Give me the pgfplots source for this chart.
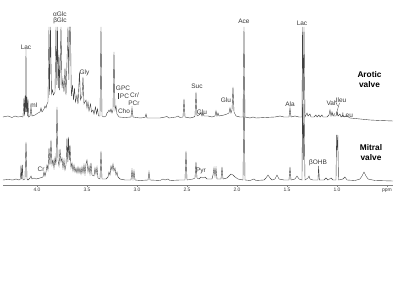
\documentclass[border=0pt]{standalone}
\usepackage{fontspec}
\setmainfont{Liberation Sans}
\usepackage{pgfplots}
\pgfplotsset{compat=1.18}
\definecolor{spec}{RGB}{65,65,65}
\definecolor{lab}{RGB}{55,55,55}
\tikzset{lbl/.style={font=\fontsize{6.5}{7}\selectfont, text=lab, inner sep=0pt},
  big/.style={font=\fontsize{8.3}{10}\selectfont\bfseries, align=center, inner sep=0pt}}
\begin{document}
\begin{tikzpicture}[x=1pt,y=1pt]
\path[use as bounding box] (0,0) rectangle (400,300);
\begin{axis}[at={(3pt,115pt)}, anchor=south west, scale only axis,
  width=390pt, height=185pt,
  xmin=0.44, xmax=4.34, x dir=reverse, ymin=0, ymax=185,
  axis y line=none, axis x line*=bottom, clip=false,
  xtick={0.5,1,1.5,2,2.5,3,3.5,4},
  xticklabels={ppm,1.0,1.5,2.0,2.5,3.0,3.5,4.0},
  minor x tick num=4, tick align=outside,
  major tick length=2pt, minor tick length=1.2pt,
  x axis line style={gray, line width=0.4pt},
  tick style={gray, line width=0.3pt},
  xticklabel style={font=\fontsize{5}{5.5}\selectfont, text=lab, inner sep=1.2pt},
  /pgf/number format/assume math mode=true,
]
% Mitral valve (lower spectrum)
\addplot[spec, line width=0.4pt] coordinates {
(4.34,5) (4.29,5.5) (4.24,5) (4.21,6) (4.18,5) (4.165,6) (4.16,20) (4.154,6) (4.146,20) (4.14,5) (4.12,6) (4.115,25) (4.11,43) (4.105,27) (4.10,6) (4.09,5) (4.07,7) (4.06,9) (4.05,6) (4.03,7) (4.01,6) (3.97,7) (3.94,8) (3.93,13) (3.92,9) (3.91,13) (3.90,20) (3.89,15) (3.88,37) (3.87,20) (3.86,45) (3.85,20) (3.84,25) (3.83,17) (3.82,27) (3.81,20) (3.80,78) (3.79,25) (3.78,19) (3.77,36) (3.76,23) (3.75,27) (3.74,17) (3.73,25) (3.72,15) (3.71,20) (3.70,47) (3.692,23) (3.685,48) (3.677,25) (3.67,40) (3.66,17) (3.65,22) (3.64,14) (3.63,20) (3.62,13) (3.61,17) (3.60,12) (3.59,18) (3.58,12) (3.57,17) (3.56,11) (3.55,18) (3.54,12) (3.53,20) (3.52,11) (3.51,21) (3.50,25) (3.49,13) (3.48,19) (3.47,11) (3.46,22) (3.45,10) (3.43,9) (3.42,17) (3.41,11) (3.40,18) (3.39,7) (3.37,6) (3.36,34) (3.35,6) (3.31,6) (3.29,8) (3.28,13) (3.27,10) (3.26,19) (3.25,15) (3.24,21) (3.23,14) (3.22,17) (3.21,10) (3.20,13) (3.19,8) (3.17,6) (3.12,5) (3.06,5) (3.05,15) (3.04,6) (3.03,14) (3.02,5) (2.97,4.5) (2.89,5) (2.88,13) (2.87,5) (2.77,4.5) (2.74,6) (2.72,5) (2.69,6) (2.67,4.5) (2.57,5) (2.52,5) (2.51,34) (2.50,5) (2.44,6) (2.42,7) (2.41,23) (2.40,7) (2.38,6) (2.36,8) (2.34,7) (2.32,8) (2.30,6) (2.25,6) (2.24,10) (2.23,17) (2.22,9) (2.21,17) (2.20,6) (2.16,6) (2.15,18) (2.14,6) (2.10,7) (2.08,9) (2.06,11) (2.04,10) (2.02,8) (1.99,6) (1.94,5) (1.93,95) (1.92,5) (1.87,4.5) (1.83,6) (1.81,4.5) (1.73,5) (1.71,7) (1.69,10) (1.67,7) (1.65,5) (1.62,6) (1.60,10) (1.58,6) (1.53,5) (1.48,5) (1.47,18) (1.46,5) (1.42,6) (1.40,9) (1.38,6) (1.35,5) (1.345,85) (1.337,25) (1.33,85) (1.32,5) (1.29,7) (1.28,9) (1.27,6) (1.24,5) (1.19,5) (1.184,19) (1.176,5) (1.13,5) (1.11,7) (1.09,5) (1.06,7) (1.04,5) (1.01,5) (1.004,50) (0.998,35) (0.992,50) (0.985,5) (0.94,6) (0.92,8) (0.90,5) (0.82,4.5) (0.77,6) (0.75,9) (0.73,13) (0.71,9) (0.69,6) (0.62,4.5) (0.44,4)
};
% Aortic valve (upper spectrum)
\addplot[spec, line width=0.4pt] coordinates {
(4.34,68) (4.29,69) (4.25,67.5) (4.22,69) (4.19,68) (4.16,68.5) (4.14,68) (4.13,87) (4.125,69) (4.118,89) (4.114,73) (4.11,136) (4.106,73) (4.101,88) (4.096,69) (4.09,86) (4.084,68) (4.07,69) (4.06,78) (4.05,69) (4.02,70) (3.99,72) (3.97,73) (3.96,77) (3.95,73) (3.93,76) (3.92,79) (3.91,77) (3.90,81) (3.89,83) (3.88,158) (3.875,90) (3.865,158) (3.855,91) (3.845,95) (3.835,90) (3.82,93) (3.81,158) (3.802,100) (3.795,158) (3.787,97) (3.78,130) (3.773,95) (3.76,158) (3.75,97) (3.74,105) (3.73,93) (3.72,117) (3.71,90) (3.69,158) (3.682,105) (3.675,158) (3.665,158) (3.657,89) (3.645,100) (3.635,85) (3.625,97) (3.615,83) (3.60,90) (3.59,81) (3.575,113) (3.565,85) (3.55,89) (3.54,108) (3.53,81) (3.51,85) (3.50,77) (3.49,83) (3.48,74) (3.465,81) (3.455,73) (3.44,75) (3.43,71) (3.415,78) (3.405,71) (3.395,76) (3.385,69) (3.37,69) (3.36,158) (3.35,69) (3.33,68) (3.31,69) (3.30,72) (3.29,73) (3.28,75) (3.27,73) (3.26,76) (3.25,72) (3.24,75) (3.23,133) (3.22,75) (3.21,79) (3.20,71) (3.18,68) (3.12,67.5) (3.06,68) (3.05,77) (3.04,68) (2.97,67) (2.92,67.5) (2.91,71) (2.90,67) (2.77,67) (2.72,68) (2.70,68.5) (2.68,67) (2.61,68) (2.59,69) (2.57,67.5) (2.54,68) (2.53,86) (2.52,68) (2.47,67) (2.43,68) (2.42,69) (2.41,93) (2.40,69) (2.38,70) (2.36,72) (2.35,69) (2.34,72) (2.33,69) (2.29,69) (2.25,68) (2.22,69) (2.21,74) (2.20,69) (2.19,72) (2.18,69) (2.13,70) (2.10,71) (2.08,72) (2.07,77) (2.06,72) (2.05,75) (2.04,98) (2.03,73) (2.01,69) (1.97,68) (1.94,68) (1.93,158) (1.92,68) (1.87,67) (1.84,68) (1.81,67) (1.72,67.5) (1.62,68) (1.57,69) (1.55,68.5) (1.53,68) (1.48,68) (1.47,77) (1.46,68) (1.42,69) (1.38,68) (1.35,68) (1.345,158) (1.337,85) (1.33,158) (1.32,68) (1.30,72) (1.29,69) (1.27,71) (1.26,68) (1.23,68) (1.21,70) (1.20,68) (1.18,70) (1.17,68) (1.15,70) (1.14,68) (1.10,68) (1.08,70) (1.07,75) (1.06,69) (1.05,73) (1.04,69) (1.01,69) (1.00,73) (0.99,69) (0.97,71) (0.96,68) (0.94,70) (0.93,68) (0.90,69) (0.87,67) (0.82,66.5) (0.77,66) (0.67,65) (0.57,64.5) (0.44,64)
};
% labels, upper spectrum
\node[lbl] at (axis cs:4.11,138) {Lac};
\node[lbl] at (axis cs:4.03,80) {mI};
\node[lbl] at (axis cs:3.77,171) {αGlc};
\node[lbl] at (axis cs:3.77,164.5) {βGlc};
\node[lbl] at (axis cs:3.525,112) {Gly};
\node[lbl] at (axis cs:3.14,97) {GPC};
\node[lbl] at (axis cs:3.125,89) {PC};
\draw[lab, line width=0.3pt] (axis cs:3.19,91.5) -- (axis cs:3.19,86);
\node[lbl] at (axis cs:3.025,90) {Cr/};
\node[lbl] at (axis cs:3.03,82) {PCr};
\node[lbl] at (axis cs:3.13,74) {Cho};
\node[lbl] at (axis cs:2.40,99) {Suc};
\node[lbl] at (axis cs:2.35,73) {Glu};
\node[lbl] at (axis cs:2.11,84.5) {Glu};
\node[lbl] at (axis cs:1.93,164) {Ace};
\node[lbl] at (axis cs:1.35,162) {Lac};
\node[lbl] at (axis cs:1.47,81) {Ala};
\node[lbl] at (axis cs:1.06,82) {Val};
\draw[lab, line width=0.3pt] (axis cs:1.015,84) -- (axis cs:0.995,79);
\node[lbl] at (axis cs:0.96,85) {Ileu};
\draw[lab, line width=0.3pt] (axis cs:0.975,82) -- (axis cs:1.005,72);
\node[lbl, font=\fontsize{4.5}{5}\selectfont] at (axis cs:1.03,70) {V};
\node[lbl, font=\fontsize{4.5}{5}\selectfont] at (axis cs:0.995,71) {I};
\node[lbl] at (axis cs:0.895,69.5) {Leu};
\node[big] at (axis cs:0.675,105) {Arotic\\valve};
% labels, lower spectrum
\node[lbl] at (axis cs:3.96,16) {Cr};
\node[lbl] at (axis cs:2.36,14) {Pyr};
\node[lbl] at (axis cs:1.19,22.5) {βOHB};
\node[big] at (axis cs:0.66,32.5) {Mitral\\valve};
\end{axis}
\end{tikzpicture}
\end{document}
